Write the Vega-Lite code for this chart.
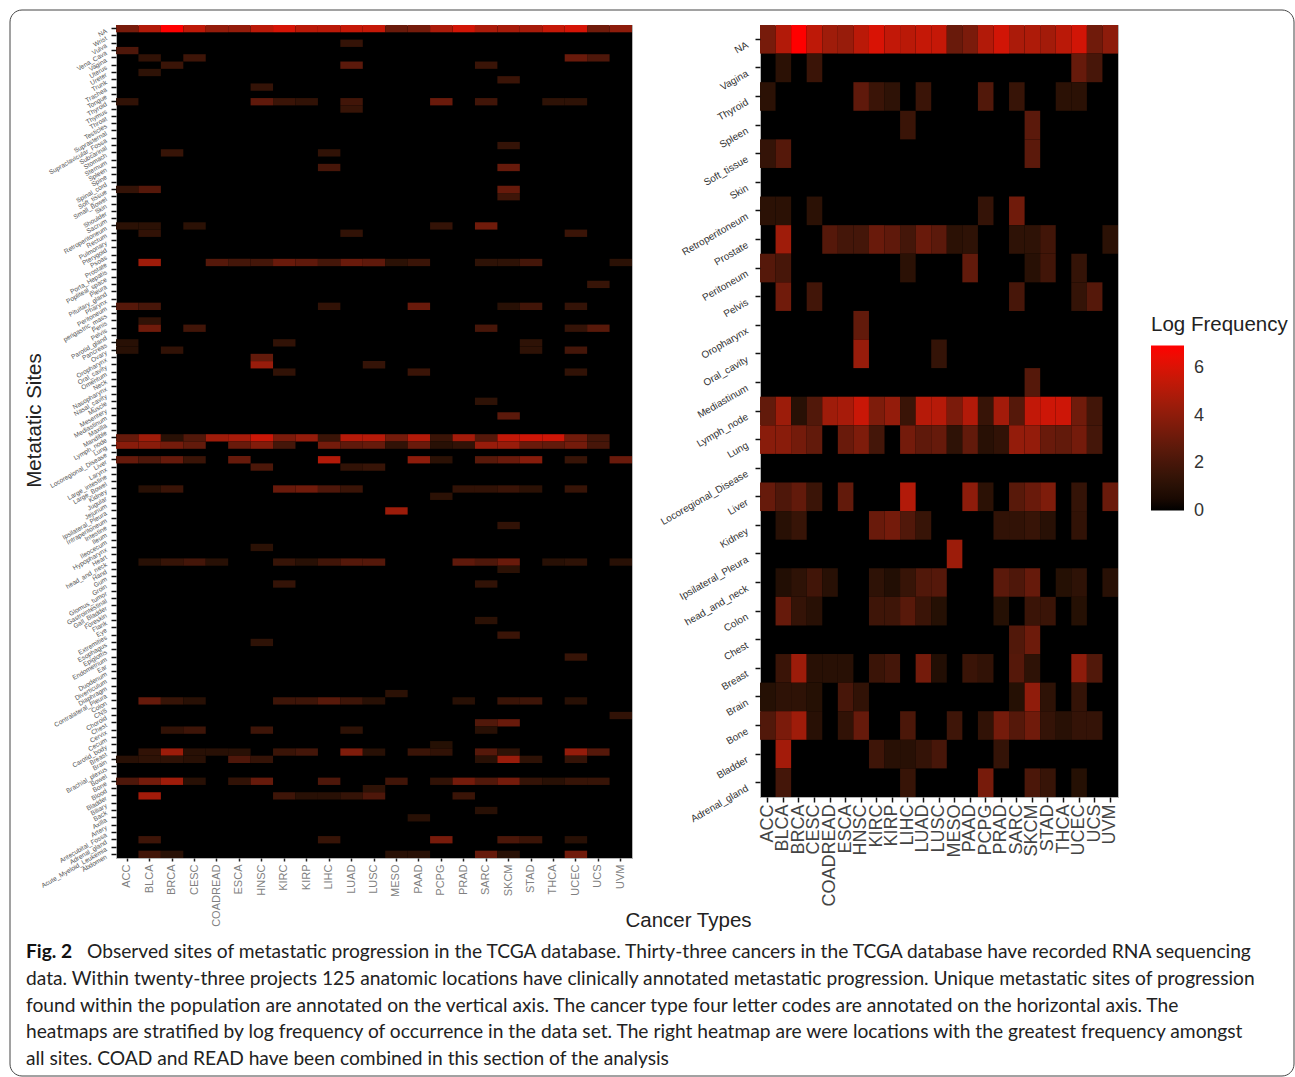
{"$schema":"https://vega.github.io/schema/vega-lite/v6.json","padding":{"left":9,"top":9,"right":0,"bottom":0},"autosize":{"type":"pad"},"background":"white","bounds":"flush","columns":2,"spacing":{"row":81,"column":128},"config":{"font":"Liberation Sans","view":{"fill":"black","stroke":"#b5b5b5"}},
"datasets":{
"all":[
{"s":"NA","c":"ACC","v":3.4},{"s":"NA","c":"BLCA","v":5},{"s":"NA","c":"BRCA","v":6.95},{"s":"NA","c":"CESC","v":5.3},{"s":"NA","c":"COADREAD","v":4.2},{"s":"NA","c":"ESCA","v":4.2},{"s":"NA","c":"HNSC","v":5.2},{"s":"NA","c":"KIRC","v":5.9},{"s":"NA","c":"KIRP","v":5.2},{"s":"NA","c":"LIHC","v":5.2},{"s":"NA","c":"LUAD","v":5.5},{"s":"NA","c":"LUSC","v":5.5},{"s":"NA","c":"MESO","v":3},{"s":"NA","c":"PAAD","v":3.3},{"s":"NA","c":"PCPG","v":4.8},{"s":"NA","c":"PRAD","v":5.8},{"s":"NA","c":"SARC","v":4.8},{"s":"NA","c":"SKCM","v":4.7},{"s":"NA","c":"STAD","v":4.7},{"s":"NA","c":"THCA","v":5.5},{"s":"NA","c":"UCEC","v":5.9},{"s":"NA","c":"UCS","v":3.2},{"s":"NA","c":"UVM","v":4},
{"s":"Vulva","c":"LUAD","v":1.4},
{"s":"Vena_Cava","c":"ACC","v":2.2},
{"s":"Vagina","c":"BLCA","v":1.3},{"s":"Vagina","c":"CESC","v":1.7},{"s":"Vagina","c":"UCEC","v":3},{"s":"Vagina","c":"UCS","v":2.2},
{"s":"Uterus","c":"BRCA","v":1.6},{"s":"Uterus","c":"LUAD","v":2.6},{"s":"Uterus","c":"SARC","v":1.6},
{"s":"Ureter","c":"BLCA","v":1.2},
{"s":"Trunk","c":"SKCM","v":1.6},
{"s":"Trachea","c":"HNSC","v":1.4},
{"s":"Thyroid","c":"ACC","v":1.3},{"s":"Thyroid","c":"HNSC","v":2.7},{"s":"Thyroid","c":"KIRC","v":1.6},{"s":"Thyroid","c":"KIRP","v":1.3},{"s":"Thyroid","c":"LUAD","v":1.8},{"s":"Thyroid","c":"PCPG","v":3},{"s":"Thyroid","c":"SARC","v":1.8},{"s":"Thyroid","c":"THCA","v":1.2},{"s":"Thyroid","c":"UCEC","v":1.2},
{"s":"Thymus","c":"LUAD","v":1.5},
{"s":"Subcarinal","c":"SKCM","v":1.4},
{"s":"Stomach","c":"BRCA","v":1.5},{"s":"Stomach","c":"LIHC","v":1.3},
{"s":"Spleen","c":"LIHC","v":2},{"s":"Spleen","c":"SKCM","v":2.9},
{"s":"Soft_tissue","c":"ACC","v":1.4},{"s":"Soft_tissue","c":"BLCA","v":2.4},{"s":"Soft_tissue","c":"SKCM","v":2.9},
{"s":"Small_Bowel","c":"SKCM","v":1.7},
{"s":"Retroperitoneum","c":"ACC","v":1.1},{"s":"Retroperitoneum","c":"BLCA","v":1.1},{"s":"Retroperitoneum","c":"CESC","v":1.1},{"s":"Retroperitoneum","c":"PCPG","v":1.4},{"s":"Retroperitoneum","c":"SARC","v":3.2},
{"s":"Rectum","c":"BLCA","v":1.3},{"s":"Rectum","c":"LUAD","v":1.3},{"s":"Rectum","c":"UCEC","v":1.6},
{"s":"Prostate","c":"BLCA","v":4.5},{"s":"Prostate","c":"COADREAD","v":2.4},{"s":"Prostate","c":"ESCA","v":1.9},{"s":"Prostate","c":"HNSC","v":1.9},{"s":"Prostate","c":"KIRC","v":3},{"s":"Prostate","c":"KIRP","v":2.7},{"s":"Prostate","c":"LIHC","v":1.9},{"s":"Prostate","c":"LUAD","v":3},{"s":"Prostate","c":"LUSC","v":2.7},{"s":"Prostate","c":"MESO","v":1.1},{"s":"Prostate","c":"PAAD","v":1.6},{"s":"Prostate","c":"SARC","v":1.2},{"s":"Prostate","c":"SKCM","v":1.2},{"s":"Prostate","c":"STAD","v":1.9},{"s":"Prostate","c":"UVM","v":1.1},
{"s":"Pleura","c":"UCS","v":1.5},
{"s":"Peritoneum","c":"ACC","v":2.4},{"s":"Peritoneum","c":"BLCA","v":2},{"s":"Peritoneum","c":"LIHC","v":1.3},{"s":"Peritoneum","c":"PAAD","v":3},{"s":"Peritoneum","c":"SKCM","v":1},{"s":"Peritoneum","c":"STAD","v":1.8},{"s":"Peritoneum","c":"UCEC","v":1.4},
{"s":"Penis","c":"BLCA","v":1.3},
{"s":"Pelvis","c":"BLCA","v":3.2},{"s":"Pelvis","c":"CESC","v":1.8},{"s":"Pelvis","c":"SARC","v":2},{"s":"Pelvis","c":"UCEC","v":1.4},{"s":"Pelvis","c":"UCS","v":2.5},
{"s":"Pancreas","c":"ACC","v":1},{"s":"Pancreas","c":"KIRC","v":1.3},{"s":"Pancreas","c":"STAD","v":1.2},
{"s":"Ovary","c":"ACC","v":1},{"s":"Ovary","c":"BRCA","v":1.3},{"s":"Ovary","c":"STAD","v":1.2},{"s":"Ovary","c":"UCEC","v":1.9},
{"s":"Oropharynx","c":"HNSC","v":2.8},
{"s":"Oral_cavity","c":"HNSC","v":4.3},{"s":"Oral_cavity","c":"LUSC","v":1.4},
{"s":"Omentum","c":"KIRC","v":1.3},{"s":"Omentum","c":"PAAD","v":1.6},{"s":"Omentum","c":"UCEC","v":1.3},
{"s":"Muscle","c":"SARC","v":1.2},
{"s":"Mediastinum","c":"SKCM","v":2.6},
{"s":"Lymph_node","c":"ACC","v":2.9},{"s":"Lymph_node","c":"BLCA","v":4.5},{"s":"Lymph_node","c":"BRCA","v":1},{"s":"Lymph_node","c":"CESC","v":2.3},{"s":"Lymph_node","c":"COADREAD","v":4.5},{"s":"Lymph_node","c":"ESCA","v":4.7},{"s":"Lymph_node","c":"HNSC","v":5.6},{"s":"Lymph_node","c":"KIRC","v":3.5},{"s":"Lymph_node","c":"KIRP","v":4.2},{"s":"Lymph_node","c":"LIHC","v":1.6},{"s":"Lymph_node","c":"LUAD","v":5.1},{"s":"Lymph_node","c":"LUSC","v":5.1},{"s":"Lymph_node","c":"MESO","v":3.3},{"s":"Lymph_node","c":"PAAD","v":5},{"s":"Lymph_node","c":"PCPG","v":1.6},{"s":"Lymph_node","c":"PRAD","v":4.6},{"s":"Lymph_node","c":"SARC","v":2.4},{"s":"Lymph_node","c":"SKCM","v":5.4},{"s":"Lymph_node","c":"STAD","v":5.7},{"s":"Lymph_node","c":"THCA","v":5.7},{"s":"Lymph_node","c":"UCEC","v":3.2},{"s":"Lymph_node","c":"UCS","v":1.9},
{"s":"Lung","c":"ACC","v":3.9},{"s":"Lung","c":"BLCA","v":3.9},{"s":"Lung","c":"BRCA","v":3.3},{"s":"Lung","c":"CESC","v":2.8},{"s":"Lung","c":"ESCA","v":3},{"s":"Lung","c":"HNSC","v":3.7},{"s":"Lung","c":"KIRC","v":1.9},{"s":"Lung","c":"LIHC","v":3.3},{"s":"Lung","c":"LUAD","v":2.7},{"s":"Lung","c":"LUSC","v":2.9},{"s":"Lung","c":"MESO","v":1.3},{"s":"Lung","c":"PAAD","v":3},{"s":"Lung","c":"PCPG","v":1},{"s":"Lung","c":"PRAD","v":1.3},{"s":"Lung","c":"SARC","v":4.3},{"s":"Lung","c":"SKCM","v":4.3},{"s":"Lung","c":"STAD","v":3},{"s":"Lung","c":"THCA","v":2.8},{"s":"Lung","c":"UCEC","v":3.3},{"s":"Lung","c":"UCS","v":2},
{"s":"Liver","c":"ACC","v":2.9},{"s":"Liver","c":"BLCA","v":2.2},{"s":"Liver","c":"BRCA","v":2.9},{"s":"Liver","c":"CESC","v":1.6},{"s":"Liver","c":"ESCA","v":2.9},{"s":"Liver","c":"LIHC","v":5},{"s":"Liver","c":"PAAD","v":4},{"s":"Liver","c":"PCPG","v":1.1},{"s":"Liver","c":"SARC","v":2.5},{"s":"Liver","c":"SKCM","v":3},{"s":"Liver","c":"STAD","v":3.8},{"s":"Liver","c":"UCEC","v":1.5},{"s":"Liver","c":"UVM","v":3},
{"s":"Larynx","c":"HNSC","v":2.1},{"s":"Larynx","c":"LUAD","v":1.3},{"s":"Larynx","c":"LUSC","v":1.5},
{"s":"Kidney","c":"BLCA","v":1},{"s":"Kidney","c":"BRCA","v":1.6},{"s":"Kidney","c":"KIRC","v":3},{"s":"Kidney","c":"KIRP","v":3.2},{"s":"Kidney","c":"LIHC","v":2.2},{"s":"Kidney","c":"LUAD","v":1.6},{"s":"Kidney","c":"PRAD","v":1.3},{"s":"Kidney","c":"SARC","v":1.3},{"s":"Kidney","c":"SKCM","v":1.6},{"s":"Kidney","c":"STAD","v":1.1},{"s":"Kidney","c":"UCEC","v":1.5},
{"s":"Jugular","c":"PCPG","v":1.1},
{"s":"Ipsilateral_Pleura","c":"MESO","v":4.4},
{"s":"Intestine","c":"SKCM","v":1.3},
{"s":"Hypopharynx","c":"HNSC","v":1.1},
{"s":"head_and_neck","c":"BLCA","v":1},{"s":"head_and_neck","c":"BRCA","v":1.5},{"s":"head_and_neck","c":"CESC","v":1.9},{"s":"head_and_neck","c":"COADREAD","v":1},{"s":"head_and_neck","c":"KIRC","v":1.5},{"s":"head_and_neck","c":"KIRP","v":1},{"s":"head_and_neck","c":"LIHC","v":1.8},{"s":"head_and_neck","c":"LUAD","v":2.4},{"s":"head_and_neck","c":"LUSC","v":2.4},{"s":"head_and_neck","c":"PRAD","v":2.7},{"s":"head_and_neck","c":"SARC","v":2.2},{"s":"head_and_neck","c":"SKCM","v":3},{"s":"head_and_neck","c":"THCA","v":1},{"s":"head_and_neck","c":"UCEC","v":1.2},{"s":"head_and_neck","c":"UVM","v":1},
{"s":"Hand","c":"SKCM","v":1.1},
{"s":"Groin","c":"KIRC","v":1.4},{"s":"Groin","c":"SARC","v":1.3},
{"s":"Flank","c":"SARC","v":1.1},
{"s":"Extremities","c":"SKCM","v":1.6},
{"s":"Esophagus","c":"HNSC","v":1.2},
{"s":"Endometrium","c":"UCEC","v":1.5},
{"s":"Contralateral_Pleura","c":"MESO","v":1.1},
{"s":"Colon","c":"BLCA","v":2.9},{"s":"Colon","c":"BRCA","v":1.5},{"s":"Colon","c":"CESC","v":1},{"s":"Colon","c":"KIRC","v":1.7},{"s":"Colon","c":"KIRP","v":1.7},{"s":"Colon","c":"LIHC","v":2.5},{"s":"Colon","c":"LUAD","v":1.7},{"s":"Colon","c":"LUSC","v":1},{"s":"Colon","c":"PRAD","v":1},{"s":"Colon","c":"SKCM","v":1.6},{"s":"Colon","c":"STAD","v":1.7},{"s":"Colon","c":"UCEC","v":1},
{"s":"Choroid","c":"UVM","v":1.3},
{"s":"Chest","c":"SARC","v":2.3},{"s":"Chest","c":"SKCM","v":3},
{"s":"Cervix","c":"BRCA","v":1.3},{"s":"Cervix","c":"CESC","v":1.7},{"s":"Cervix","c":"HNSC","v":1.7},{"s":"Cervix","c":"LUAD","v":1.2},{"s":"Cervix","c":"SARC","v":1},
{"s":"Carotid_body","c":"PCPG","v":0.9},
{"s":"Breast","c":"BLCA","v":1.3},{"s":"Breast","c":"BRCA","v":4.4},{"s":"Breast","c":"CESC","v":1},{"s":"Breast","c":"COADREAD","v":1},{"s":"Breast","c":"ESCA","v":1},{"s":"Breast","c":"KIRC","v":1.6},{"s":"Breast","c":"KIRP","v":1.9},{"s":"Breast","c":"LUAD","v":3.6},{"s":"Breast","c":"LUSC","v":1},{"s":"Breast","c":"PAAD","v":1.6},{"s":"Breast","c":"PCPG","v":1.3},{"s":"Breast","c":"SARC","v":2.4},{"s":"Breast","c":"SKCM","v":1.2},{"s":"Breast","c":"UCEC","v":4.2},{"s":"Breast","c":"UCS","v":2.4},
{"s":"Brain","c":"ACC","v":1},{"s":"Brain","c":"BLCA","v":1.2},{"s":"Brain","c":"BRCA","v":1.2},{"s":"Brain","c":"CESC","v":1},{"s":"Brain","c":"ESCA","v":2.2},{"s":"Brain","c":"HNSC","v":1.4},{"s":"Brain","c":"SARC","v":1},{"s":"Brain","c":"SKCM","v":4.3},{"s":"Brain","c":"STAD","v":1.2},{"s":"Brain","c":"UCEC","v":1.4},
{"s":"Bone","c":"ACC","v":2.2},{"s":"Bone","c":"BLCA","v":3.3},{"s":"Bone","c":"BRCA","v":4.5},{"s":"Bone","c":"CESC","v":1},{"s":"Bone","c":"ESCA","v":1.3},{"s":"Bone","c":"HNSC","v":2.9},{"s":"Bone","c":"LIHC","v":2.2},{"s":"Bone","c":"MESO","v":1.8},{"s":"Bone","c":"PCPG","v":1.3},{"s":"Bone","c":"PRAD","v":3.3},{"s":"Bone","c":"SARC","v":2.3},{"s":"Bone","c":"SKCM","v":3.3},{"s":"Bone","c":"STAD","v":1.4},{"s":"Bone","c":"THCA","v":1},{"s":"Bone","c":"UCEC","v":1.5},{"s":"Bone","c":"UCS","v":1.5},
{"s":"Blood","c":"LUSC","v":1.2},
{"s":"Bladder","c":"BLCA","v":4.6},{"s":"Bladder","c":"KIRC","v":1.7},{"s":"Bladder","c":"KIRP","v":1},{"s":"Bladder","c":"LIHC","v":1},{"s":"Bladder","c":"LUAD","v":1.4},{"s":"Bladder","c":"LUSC","v":2.2},{"s":"Bladder","c":"PRAD","v":1.6},
{"s":"Back","c":"SARC","v":1},
{"s":"Axilla","c":"PAAD","v":1},
{"s":"Adrenal_gland","c":"BLCA","v":1.7},{"s":"Adrenal_gland","c":"LIHC","v":1.5},{"s":"Adrenal_gland","c":"PCPG","v":3.4},{"s":"Adrenal_gland","c":"SKCM","v":2.1},{"s":"Adrenal_gland","c":"STAD","v":1.6},{"s":"Adrenal_gland","c":"UCEC","v":1},
{"s":"Abdomen","c":"BLCA","v":1.8},{"s":"Abdomen","c":"BRCA","v":1},{"s":"Abdomen","c":"MESO","v":1},{"s":"Abdomen","c":"PAAD","v":1},{"s":"Abdomen","c":"SARC","v":2.9},{"s":"Abdomen","c":"SKCM","v":1},{"s":"Abdomen","c":"UCEC","v":3.2}
],
"top":[
{"s":"NA","c":"ACC","v":3.4},{"s":"NA","c":"BLCA","v":5},{"s":"NA","c":"BRCA","v":6.95},{"s":"NA","c":"CESC","v":5.3},{"s":"NA","c":"COADREAD","v":4.5},{"s":"NA","c":"ESCA","v":4.3},{"s":"NA","c":"HNSC","v":5.2},{"s":"NA","c":"KIRC","v":6},{"s":"NA","c":"KIRP","v":5.4},{"s":"NA","c":"LIHC","v":5.2},{"s":"NA","c":"LUAD","v":5.5},{"s":"NA","c":"LUSC","v":5.5},{"s":"NA","c":"MESO","v":3},{"s":"NA","c":"PAAD","v":3.5},{"s":"NA","c":"PCPG","v":5},{"s":"NA","c":"PRAD","v":5.8},{"s":"NA","c":"SARC","v":4.8},{"s":"NA","c":"SKCM","v":4.9},{"s":"NA","c":"STAD","v":4.6},{"s":"NA","c":"THCA","v":5.2},{"s":"NA","c":"UCEC","v":5.8},{"s":"NA","c":"UCS","v":3.2},{"s":"NA","c":"UVM","v":4},
{"s":"Vagina","c":"BLCA","v":1.1},{"s":"Vagina","c":"CESC","v":1.6},{"s":"Vagina","c":"UCEC","v":2.9},{"s":"Vagina","c":"UCS","v":2},
{"s":"Thyroid","c":"ACC","v":1.1},{"s":"Thyroid","c":"HNSC","v":2.7},{"s":"Thyroid","c":"KIRC","v":1.6},{"s":"Thyroid","c":"KIRP","v":1.2},{"s":"Thyroid","c":"LUAD","v":1.6},{"s":"Thyroid","c":"PCPG","v":2.3},{"s":"Thyroid","c":"SARC","v":1.5},{"s":"Thyroid","c":"THCA","v":1.1},{"s":"Thyroid","c":"UCEC","v":1.1},
{"s":"Spleen","c":"LIHC","v":1.6},{"s":"Spleen","c":"SKCM","v":2.6},
{"s":"Soft_tissue","c":"ACC","v":1.4},{"s":"Soft_tissue","c":"BLCA","v":2.4},{"s":"Soft_tissue","c":"SKCM","v":2.6},
{"s":"Retroperitoneum","c":"ACC","v":1.1},{"s":"Retroperitoneum","c":"BLCA","v":1.1},{"s":"Retroperitoneum","c":"CESC","v":1.1},{"s":"Retroperitoneum","c":"PCPG","v":1.4},{"s":"Retroperitoneum","c":"SARC","v":3.2},
{"s":"Prostate","c":"BLCA","v":4.5},{"s":"Prostate","c":"COADREAD","v":2.4},{"s":"Prostate","c":"ESCA","v":1.9},{"s":"Prostate","c":"HNSC","v":1.9},{"s":"Prostate","c":"KIRC","v":3},{"s":"Prostate","c":"KIRP","v":2.7},{"s":"Prostate","c":"LIHC","v":1.9},{"s":"Prostate","c":"LUAD","v":3},{"s":"Prostate","c":"LUSC","v":2.6},{"s":"Prostate","c":"MESO","v":1.1},{"s":"Prostate","c":"PAAD","v":1.2},{"s":"Prostate","c":"SARC","v":1.2},{"s":"Prostate","c":"SKCM","v":1.2},{"s":"Prostate","c":"STAD","v":1.8},{"s":"Prostate","c":"UVM","v":1.1},
{"s":"Peritoneum","c":"ACC","v":2.4},{"s":"Peritoneum","c":"BLCA","v":2},{"s":"Peritoneum","c":"LIHC","v":1.1},{"s":"Peritoneum","c":"PAAD","v":2.8},{"s":"Peritoneum","c":"SKCM","v":1},{"s":"Peritoneum","c":"STAD","v":1.8},{"s":"Peritoneum","c":"UCEC","v":1.4},
{"s":"Pelvis","c":"BLCA","v":3.2},{"s":"Pelvis","c":"CESC","v":1.8},{"s":"Pelvis","c":"SARC","v":2},{"s":"Pelvis","c":"UCEC","v":1.4},{"s":"Pelvis","c":"UCS","v":2.4},
{"s":"Oropharynx","c":"HNSC","v":2.8},
{"s":"Oral_cavity","c":"HNSC","v":4.3},{"s":"Oral_cavity","c":"LUSC","v":1.4},
{"s":"Mediastinum","c":"SKCM","v":2.4},
{"s":"Lymph_node","c":"ACC","v":2.8},{"s":"Lymph_node","c":"BLCA","v":4.4},{"s":"Lymph_node","c":"BRCA","v":1},{"s":"Lymph_node","c":"CESC","v":2.3},{"s":"Lymph_node","c":"COADREAD","v":4.5},{"s":"Lymph_node","c":"ESCA","v":4.7},{"s":"Lymph_node","c":"HNSC","v":5.6},{"s":"Lymph_node","c":"KIRC","v":3.6},{"s":"Lymph_node","c":"KIRP","v":4.2},{"s":"Lymph_node","c":"LIHC","v":1.6},{"s":"Lymph_node","c":"LUAD","v":5.1},{"s":"Lymph_node","c":"LUSC","v":5.1},{"s":"Lymph_node","c":"MESO","v":3.5},{"s":"Lymph_node","c":"PAAD","v":5},{"s":"Lymph_node","c":"PCPG","v":1.5},{"s":"Lymph_node","c":"PRAD","v":4.6},{"s":"Lymph_node","c":"SARC","v":2.4},{"s":"Lymph_node","c":"SKCM","v":5.4},{"s":"Lymph_node","c":"STAD","v":5.7},{"s":"Lymph_node","c":"THCA","v":5.7},{"s":"Lymph_node","c":"UCEC","v":3.2},{"s":"Lymph_node","c":"UCS","v":1.8},
{"s":"Lung","c":"ACC","v":3.9},{"s":"Lung","c":"BLCA","v":3.9},{"s":"Lung","c":"BRCA","v":3.3},{"s":"Lung","c":"CESC","v":2.8},{"s":"Lung","c":"ESCA","v":3},{"s":"Lung","c":"HNSC","v":3.6},{"s":"Lung","c":"KIRC","v":1.9},{"s":"Lung","c":"LIHC","v":3.3},{"s":"Lung","c":"LUAD","v":2.7},{"s":"Lung","c":"LUSC","v":2.9},{"s":"Lung","c":"MESO","v":1.2},{"s":"Lung","c":"PAAD","v":2.8},{"s":"Lung","c":"PCPG","v":1},{"s":"Lung","c":"PRAD","v":1.3},{"s":"Lung","c":"SARC","v":4.2},{"s":"Lung","c":"SKCM","v":4.2},{"s":"Lung","c":"STAD","v":3},{"s":"Lung","c":"THCA","v":2.8},{"s":"Lung","c":"UCEC","v":3.3},{"s":"Lung","c":"UCS","v":1.9},
{"s":"Liver","c":"ACC","v":2.9},{"s":"Liver","c":"BLCA","v":2.2},{"s":"Liver","c":"BRCA","v":2.8},{"s":"Liver","c":"CESC","v":1.6},{"s":"Liver","c":"ESCA","v":2.8},{"s":"Liver","c":"LIHC","v":5},{"s":"Liver","c":"PAAD","v":4},{"s":"Liver","c":"PCPG","v":1.1},{"s":"Liver","c":"SARC","v":2.5},{"s":"Liver","c":"SKCM","v":3},{"s":"Liver","c":"STAD","v":3.6},{"s":"Liver","c":"UCEC","v":1.4},{"s":"Liver","c":"UVM","v":3},
{"s":"Kidney","c":"BLCA","v":1},{"s":"Kidney","c":"BRCA","v":1.5},{"s":"Kidney","c":"KIRC","v":3},{"s":"Kidney","c":"KIRP","v":3.3},{"s":"Kidney","c":"LIHC","v":2.3},{"s":"Kidney","c":"LUAD","v":1.5},{"s":"Kidney","c":"PRAD","v":1.3},{"s":"Kidney","c":"SARC","v":1.3},{"s":"Kidney","c":"SKCM","v":1.5},{"s":"Kidney","c":"STAD","v":1},{"s":"Kidney","c":"UCEC","v":1.3},
{"s":"Ipsilateral_Pleura","c":"MESO","v":4.4},
{"s":"head_and_neck","c":"BLCA","v":0.8},{"s":"head_and_neck","c":"BRCA","v":1.2},{"s":"head_and_neck","c":"CESC","v":1.8},{"s":"head_and_neck","c":"COADREAD","v":1},{"s":"head_and_neck","c":"KIRC","v":1.2},{"s":"head_and_neck","c":"KIRP","v":0.8},{"s":"head_and_neck","c":"LIHC","v":1.5},{"s":"head_and_neck","c":"LUAD","v":2.3},{"s":"head_and_neck","c":"LUSC","v":2.4},{"s":"head_and_neck","c":"PRAD","v":2.6},{"s":"head_and_neck","c":"SARC","v":2.2},{"s":"head_and_neck","c":"SKCM","v":2.9},{"s":"head_and_neck","c":"THCA","v":0.9},{"s":"head_and_neck","c":"UCEC","v":1.2},{"s":"head_and_neck","c":"UVM","v":1},
{"s":"Colon","c":"BLCA","v":2.9},{"s":"Colon","c":"BRCA","v":1.4},{"s":"Colon","c":"CESC","v":1},{"s":"Colon","c":"KIRC","v":1.7},{"s":"Colon","c":"KIRP","v":1.7},{"s":"Colon","c":"LIHC","v":2.5},{"s":"Colon","c":"LUAD","v":1.6},{"s":"Colon","c":"LUSC","v":0.9},{"s":"Colon","c":"PRAD","v":0.9},{"s":"Colon","c":"SKCM","v":1.6},{"s":"Colon","c":"STAD","v":1.6},{"s":"Colon","c":"UCEC","v":0.9},
{"s":"Chest","c":"SARC","v":2.3},{"s":"Chest","c":"SKCM","v":3.1},
{"s":"Breast","c":"BLCA","v":1.6},{"s":"Breast","c":"BRCA","v":4.4},{"s":"Breast","c":"CESC","v":1},{"s":"Breast","c":"COADREAD","v":1},{"s":"Breast","c":"ESCA","v":1},{"s":"Breast","c":"KIRC","v":1.6},{"s":"Breast","c":"KIRP","v":1.9},{"s":"Breast","c":"LUAD","v":3.3},{"s":"Breast","c":"LUSC","v":0.8},{"s":"Breast","c":"PAAD","v":1.6},{"s":"Breast","c":"PCPG","v":1.3},{"s":"Breast","c":"SARC","v":2.4},{"s":"Breast","c":"SKCM","v":1.2},{"s":"Breast","c":"UCEC","v":4},{"s":"Breast","c":"UCS","v":2.3},
{"s":"Brain","c":"ACC","v":0.9},{"s":"Brain","c":"BLCA","v":1.2},{"s":"Brain","c":"BRCA","v":1.2},{"s":"Brain","c":"CESC","v":0.9},{"s":"Brain","c":"ESCA","v":2},{"s":"Brain","c":"HNSC","v":1.3},{"s":"Brain","c":"SARC","v":0.9},{"s":"Brain","c":"SKCM","v":4.1},{"s":"Brain","c":"STAD","v":1.2},{"s":"Brain","c":"UCEC","v":1.4},
{"s":"Bone","c":"ACC","v":2.3},{"s":"Bone","c":"BLCA","v":3.5},{"s":"Bone","c":"BRCA","v":4.5},{"s":"Bone","c":"CESC","v":1},{"s":"Bone","c":"ESCA","v":1.3},{"s":"Bone","c":"HNSC","v":2.9},{"s":"Bone","c":"LIHC","v":2.1},{"s":"Bone","c":"MESO","v":1.7},{"s":"Bone","c":"PCPG","v":1.3},{"s":"Bone","c":"PRAD","v":3.3},{"s":"Bone","c":"SARC","v":2.4},{"s":"Bone","c":"SKCM","v":3.2},{"s":"Bone","c":"STAD","v":1.4},{"s":"Bone","c":"THCA","v":1},{"s":"Bone","c":"UCEC","v":1.4},{"s":"Bone","c":"UCS","v":1.4},
{"s":"Bladder","c":"BLCA","v":4.6},{"s":"Bladder","c":"KIRC","v":1.7},{"s":"Bladder","c":"KIRP","v":1},{"s":"Bladder","c":"LIHC","v":1},{"s":"Bladder","c":"LUAD","v":1.4},{"s":"Bladder","c":"LUSC","v":2},{"s":"Bladder","c":"PRAD","v":1.4},
{"s":"Adrenal_gland","c":"BLCA","v":1.9},{"s":"Adrenal_gland","c":"LIHC","v":1.5},{"s":"Adrenal_gland","c":"PCPG","v":3.4},{"s":"Adrenal_gland","c":"SKCM","v":2.1},{"s":"Adrenal_gland","c":"STAD","v":1.5},{"s":"Adrenal_gland","c":"UCEC","v":0.9}
],
"caption":[
{"line":"1","part":"lead","text":"Fig. 2"},
{"line":"1","part":"rest","text":"Observed sites of metastatic progression in the TCGA database. Thirty-three cancers in the TCGA database have recorded RNA sequencing"},
{"line":"2","part":"body","text":"data. Within twenty-three projects 125 anatomic locations have clinically annotated metastatic progression. Unique metastatic sites of progression"},
{"line":"3","part":"body","text":"found within the population are annotated on the vertical axis. The cancer type four letter codes are annotated on the horizontal axis. The"},
{"line":"4","part":"body","text":"heatmaps are stratified by log frequency of occurrence in the data set. The right heatmap are were locations with the greatest frequency amongst"},
{"line":"5","part":"body","text":"all sites. COAD and READ have been combined in this section of the analysis"}
]},
"concat":[
{"width":516,"height":833,"data":{"name":"all"},"mark":{"type":"rect"},
"encoding":{
"x":{"field":"c","type":"nominal","scale":{"domain":["ACC","BLCA","BRCA","CESC","COADREAD","ESCA","HNSC","KIRC","KIRP","LIHC","LUAD","LUSC","MESO","PAAD","PCPG","PRAD","SARC","SKCM","STAD","THCA","UCEC","UCS","UVM"],"paddingInner":0,"paddingOuter":0},
"axis":{"title":"Cancer Types","titleFontSize":20.5,"titleFontWeight":"normal","titleColor":"#222","titleX":572,"titleY":62,"titleAlign":"center","titleBaseline":"middle","labelAngle":-90,"labelFontSize":11,"labelColor":"#7f7f7f","labelPadding":3,"tickSize":3,"tickWidth":1.5,"tickColor":"#222","domain":false,"labelOverlap":false}},
"y":{"field":"s","type":"nominal","scale":{"domain":["NA","Wrist","Vulva","Vena_Cava","Vagina","Uterus","Ureter","Trunk","Trachea","Tongue","Thyroid","Thymus","Throat","Testicles","Suprasternal","Supraclavicular_Fossa","Subcarinal","Stomach","Sternum","Spleen","Spine","Spinal_cord","Soft_tissue","Small_Bowel","Skin","Shoulder","Sacrum","Retroperitoneum","Rectum","Pulmonary","Pterygoid","Psoas","Prostate","Porta_Hepatis","Popliteal_space","Pleura","Pituitary_gland","Pharynx","Peritoneum","perigastric_mass","Penis","Pelvis","Parotid_gland","Pancreas","Ovary","Oropharynx","Oral_cavity","Omentum","Neck","Nasopharynx","Nasal_cavity","Muscle","Mesentery","Mediastinum","Maxilla","Mandible","Lymph_node","Lung","Locoregional_Disease","Liver","Larynx","Large_intestine","Large_Bowel","Kidney","Jugular","Jejunum","Ipsilateral_Pleura","Intraperitoneum","Intestine","Ileum","Ileocecum","Hypopharynx","Heart","head_and_neck","Hand","Gum","Groin","Glomus_tumor","Gastrointestinal","Gall_Bladder","Foreskin","Flank","Eye","Extremities","Esophagus","Epiglottis","Endometrium","Ear","Duodenum","Diverticulum","Diaphragm","Contralateral_Pleura","Colon","CNS","Choroid","Chest","Cervix","Cecum","Carotid_body","Breast","Brain","Brachial_plexus","Bowel","Bone","Blood","Bladder","Biliary","Back","Axilla","Artery","Antecubital_Fossa","Adrenal_gland","Acute_Myeloid_Leukemia","Abdomen"],"paddingInner":0,"paddingOuter":0},
"axis":{"title":"Metatatic Sites","titleFontSize":20.5,"titleFontWeight":"normal","titleColor":"#222","titleX":-72,"titleY":395,"titleAlign":"center","labelAngle":-30,"labelFontSize":6.5,"labelColor":"#555","labelPadding":5,"labelOffset":2,"tickSize":5,"tickWidth":1.5,"tickColor":"#111","domain":false,"labelOverlap":false,"labelSeparation":0}},
"color":{"field":"v","type":"quantitative","scale":{"domain":[0,6.95],"range":["#000000","#ff0000"],"interpolate":"lab"},
"legend":{"title":"Log Frequency","orient":"none","legendX":1035,"legendY":290,"titleFontSize":20.5,"titleFontWeight":"normal","titleColor":"#222","titlePadding":10,"labelFontSize":18,"labelColor":"#333","gradientLength":165,"gradientThickness":33,"values":[0,2,4,6],"labelOffset":10,"encode":{"labels":{"update":{"baseline":{"value":"middle"}}}}}}
}},
{"width":358,"height":772,"data":{"name":"top"},"mark":{"type":"rect"},
"encoding":{
"x":{"field":"c","type":"nominal","scale":{"domain":["ACC","BLCA","BRCA","CESC","COADREAD","ESCA","HNSC","KIRC","KIRP","LIHC","LUAD","LUSC","MESO","PAAD","PCPG","PRAD","SARC","SKCM","STAD","THCA","UCEC","UCS","UVM"],"paddingInner":0,"paddingOuter":0},
"axis":{"title":null,"labelAngle":-90,"labelFontSize":18,"labelColor":"#444","labelPadding":2,"tickSize":5,"tickWidth":1.5,"tickColor":"#111","domain":false,"labelOverlap":false}},
"y":{"field":"s","type":"nominal","scale":{"domain":["NA","Vagina","Thyroid","Spleen","Soft_tissue","Skin","Retroperitoneum","Prostate","Peritoneum","Pelvis","Oropharynx","Oral_cavity","Mediastinum","Lymph_node","Lung","Locoregional_Disease","Liver","Kidney","Ipsilateral_Pleura","head_and_neck","Colon","Chest","Breast","Brain","Bone","Bladder","Adrenal_gland"],"paddingInner":0,"paddingOuter":0},
"axis":{"title":null,"labelAngle":-30,"labelFontSize":10,"labelColor":"#333","labelPadding":8,"labelOffset":5,"tickSize":5,"tickWidth":1.5,"tickColor":"#111","domain":false,"labelOverlap":false,"labelSeparation":0}},
"color":{"field":"v","type":"quantitative","scale":{"domain":[0,6.95],"range":["#000000","#ff0000"],"interpolate":"lab"},
"legend":{"title":"Log Frequency","orient":"none","legendX":1035,"legendY":290,"titleFontSize":20.5,"titleFontWeight":"normal","titleColor":"#222","titlePadding":10,"labelFontSize":18,"labelColor":"#333","gradientLength":165,"gradientThickness":33,"values":[0,2,4,6],"labelOffset":10,"encode":{"labels":{"update":{"baseline":{"value":"middle"}}}}}}
}},
{"width":516,"height":133,"view":{"fill":null,"stroke":null},"data":{"name":"caption"},
"layer":[
{"mark":{"type":"rect","fill":null,"stroke":"#444","strokeWidth":1,"cornerRadius":12},"data":{"values":[{"frame":"border"}]},"encoding":{"x":{"value":-106},"x2":{"value":1178},"y":{"value":-929},"y2":{"value":137}}},
{"transform":[{"filter":"datum.part==='lead'"}],"mark":{"type":"text","align":"left","baseline":"middle","font":"Lato","fontSize":19.2,"fontWeight":"bold","color":"#111"},"encoding":{"x":{"value":-90},"y":{"field":"line","type":"ordinal","axis":null,"scale":{"domain":["1","2","3","4","5"]}},"text":{"field":"text"}}},
{"transform":[{"filter":"datum.part==='rest'"}],"mark":{"type":"text","align":"left","baseline":"middle","font":"Lato","fontSize":19.2,"color":"#222","dx":61},"encoding":{"x":{"value":-90},"y":{"field":"line","type":"ordinal","axis":null,"scale":{"domain":["1","2","3","4","5"]}},"text":{"field":"text"}}},
{"transform":[{"filter":"datum.part==='body'"}],"mark":{"type":"text","align":"left","baseline":"middle","font":"Lato","fontSize":19.2,"color":"#222"},"encoding":{"x":{"value":-90},"y":{"field":"line","type":"ordinal","axis":null,"scale":{"domain":["1","2","3","4","5"]}},"text":{"field":"text"}}}
]}
]}
